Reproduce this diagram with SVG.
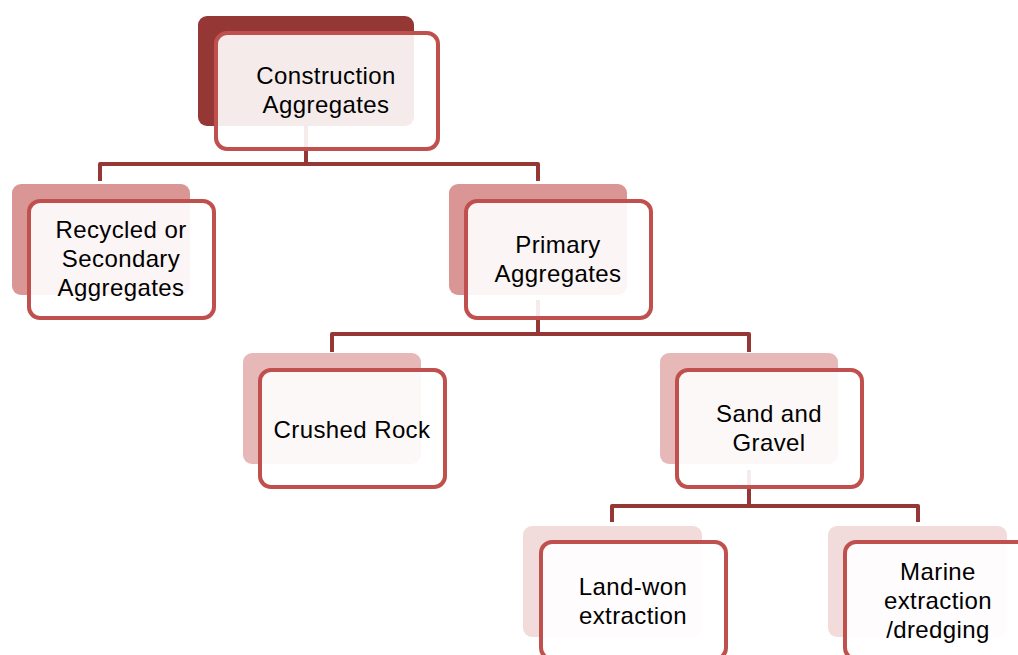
<svg xmlns="http://www.w3.org/2000/svg" width="1018" height="655" viewBox="0 0 1018 655">
<style>
.bg{fill:#ffffff}
.con{fill:none;stroke:#953735;stroke-width:4;stroke-linejoin:round;stroke-linecap:butt}
.back0{fill:#953735}
.back1{fill:#D99694}
.back2{fill:#E6B9B8}
.back3{fill:#F2DCDB}
.front{fill:#ffffff;fill-opacity:0.9;stroke:#C0504D;stroke-width:4}
.t{font-family:"Liberation Sans",Arial,sans-serif;font-size:24px;letter-spacing:0.4px;fill:#000000;text-anchor:middle}
</style>
<rect class="bg" x="0" y="0" width="1018" height="655"/>
<g id="connectors">
<path class="con" d="M306 120 V164 M100 181 V164 H538 V181"/>
<path class="con" d="M538 300 V334 M332 352 V334 H749 V352"/>
<path class="con" d="M749 470 V506 M612 522 V506 H918 V522"/>
</g>
<g id="node-root">
<rect class="back0" x="198" y="16" width="216" height="110" rx="9"/>
<rect class="front" x="216" y="33" width="222" height="116" rx="11"/>
<text class="t" x="326" y="84">Construction</text>
<text class="t" x="326" y="113">Aggregates</text>
</g>
<g id="node-recycled">
<rect class="back1" x="12" y="184" width="178" height="111" rx="9"/>
<rect class="front" x="29" y="201" width="185" height="117" rx="11"/>
<text class="t" x="121" y="238">Recycled or</text>
<text class="t" x="121" y="267">Secondary</text>
<text class="t" x="121" y="296">Aggregates</text>
</g>
<g id="node-primary">
<rect class="back1" x="449" y="184" width="178" height="111" rx="9"/>
<rect class="front" x="466" y="201" width="185" height="117" rx="11"/>
<text class="t" x="558" y="253">Primary</text>
<text class="t" x="558" y="282">Aggregates</text>
</g>
<g id="node-crushed">
<rect class="back2" x="243" y="353" width="178" height="111" rx="9"/>
<rect class="front" x="260" y="370" width="185" height="117" rx="11"/>
<text class="t" x="352" y="438">Crushed Rock</text>
</g>
<g id="node-sand">
<rect class="back2" x="660" y="353" width="178" height="111" rx="9"/>
<rect class="front" x="677" y="370" width="185" height="117" rx="11"/>
<text class="t" x="769" y="422">Sand and</text>
<text class="t" x="769" y="451">Gravel</text>
</g>
<g id="node-landwon">
<rect class="back3" x="523" y="526" width="179" height="111" rx="9"/>
<rect class="front" x="541" y="542" width="185" height="117" rx="11"/>
<text class="t" x="633" y="595">Land-won</text>
<text class="t" x="633" y="624">extraction</text>
</g>
<g id="node-marine">
<rect class="back3" x="828" y="526" width="179" height="111" rx="9"/>
<rect class="front" x="845" y="542" width="185" height="117" rx="11"/>
<text class="t" x="938" y="580">Marine</text>
<text class="t" x="938" y="609">extraction</text>
<text class="t" x="938" y="638">/dredging</text>
</g>
</svg>
